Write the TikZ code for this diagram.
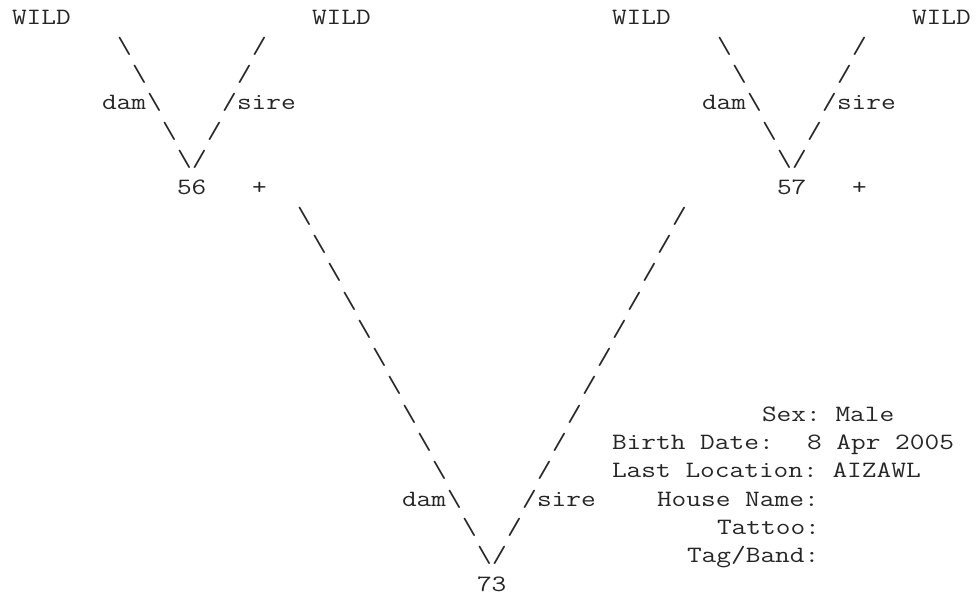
\documentclass[tikz,border=0pt]{standalone}
\usepackage{fontspec}
\setmonofont{Latin Modern Mono}[FakeStretch=1.22]

\tikzset{
  txt/.style={anchor=base west,inner sep=0pt,outer sep=0pt,text=black!85,
    font=\ttfamily\fontsize{11.7}{14}\selectfont},
}
\newcommand{\bsl}{\textbackslash}

\begin{document}
\begin{tikzpicture}[x=7.5pt,y=-14.15pt]
  \useasboundingbox (-0.8,-0.883) rectangle (64.467,20.177);

  %% founders
  \node[txt] (wild1) at (0,0)  {WILD};
  \node[txt] (wild2) at (20,0) {WILD};
  \node[txt] (wild3) at (40,0) {WILD};
  \node[txt] (wild4) at (60,0) {WILD};

  %% parents
  \foreach \off/\id in {0/56,40/57} {
    \foreach \r in {1,...,5} {
      \node[txt] (dl\id-\r) at (\off+6+\r,\r) {\bsl};
      \node[txt] (sl\id-\r) at (\off+17-\r,\r) {/};
    }
    \node[txt] (dam\id)  at (\off+6,3)  {dam};
    \node[txt] (sire\id) at (\off+15,3) {sire};
    \node[txt] (id\id)   at (\off+11,6) {\id};
    \node[txt] (plus\id) at (\off+16,6) {+};
  }

  %% animal
  \foreach \r in {7,...,19} {
    \node[txt] (dl73-\r) at (12+\r,\r) {\bsl};
    \node[txt] (sl73-\r) at (51-\r,\r) {/};
  }
  \node[txt] (dam73)  at (26,17) {dam};
  \node[txt] (sire73) at (35,17) {sire};
  \node[txt] (id73)   at (31,20) {73};

  %% details
  \node[txt] (sex)   at (50,14) {Sex: Male};
  \node[txt] (birth) at (40,15) {Birth Date:};
  \node[txt] (date)  at (53,15) {8 Apr 2005};
  \node[txt] (loc)   at (40,16) {Last Location: AIZAWL};
  \node[txt] (house) at (43,17) {House Name:};
  \node[txt] (tat)   at (47,18) {Tattoo:};
  \node[txt] (tag)   at (45,19) {Tag/Band:};

\end{tikzpicture}
\end{document}
